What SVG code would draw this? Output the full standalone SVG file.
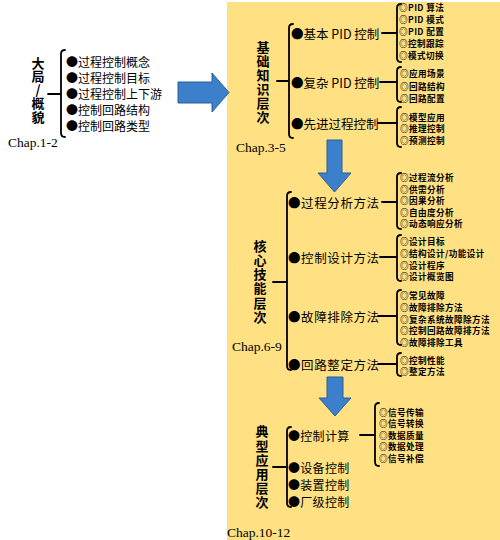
<svg xmlns="http://www.w3.org/2000/svg" width="500" height="540" viewBox="0 0 500 540">
<style>
.br{fill:none;stroke:#000;stroke-width:1.8;stroke-linecap:round;stroke-linejoin:round}
.ar{fill:#3C7FCB;stroke:#2D5F99;stroke-width:1}
text{font-family:"Noto Sans CJK SC","Noto Sans",sans-serif;dominant-baseline:central;fill:#000}
.t1{font-size:12px}
.t2{font-size:12.5px}
.t4{font-size:12px;letter-spacing:0.3px}
.t3{font-size:8.6px;font-weight:bold;letter-spacing:0.4px}
.v{font-size:13px;font-weight:bold;text-anchor:middle;writing-mode:vertical-rl;text-orientation:upright}
.chap{font-family:"Liberation Serif",serif;font-size:13.5px}
</style>
<rect id="panel" x="227" y="2" width="273" height="538" fill="#FFE083"/>

<g id="connectors">
  <path class="br" d="M65 50 Q61 50 61 54 V133 Q61 137 65 137 M48 94 H61"/>
  <path class="br" d="M293 24 Q289 24 289 28 V134 Q289 138 293 138 M277 81 H289"/>
  <path class="br" d="M401 4 Q397 4 397 8 V58 Q397 62 401 62 M382 33 H397"/>
  <path class="br" d="M401 67 Q397 67 397 71 V98 Q397 102 401 102 M380 82 H397"/>
  <path class="br" d="M401 107 Q397 107 397 111 V143 Q397 147 401 147 M378 123 H397"/>
  <path class="br" d="M291 192 Q287 192 287 196 V366 Q287 370 291 370 M273 282 H287"/>
  <path class="br" d="M401 173 Q397 173 397 177 V225 Q397 229 401 229 M382 202 H397"/>
  <path class="br" d="M401 235 Q397 235 397 239 V277 Q397 281 401 281 M380 257 H397"/>
  <path class="br" d="M401 290 Q397 290 397 294 V341 Q397 345 401 345 M378 316 H397"/>
  <path class="br" d="M401 353 Q397 353 397 357 V372 Q397 376 401 376 M378 364 H397"/>
  <path class="br" d="M291 427 Q287 427 287 431 V503 Q287 507 291 507 M273 467 H287"/>
  <path class="br" d="M379 403 Q375 403 375 407 V462 Q375 466 379 466 M360 435 H375"/>
  <polygon class="ar" points="178,82 212,82 212,73 229,92.5 212,112 212,103 178,103"/>
  <polygon class="ar" points="327,140 342,140 342,173 351,173 334.5,192 318,173 327,173"/>
  <polygon class="ar" points="327,377 343,377 343,398 351,398 335,416 319,398 327,398"/>
</g>

<g id="overview">
  <text class="v" x="38" y="90" letter-spacing="0.5">大局/概貌</text>
  <text class="chap" x="8" y="142">Chap.1-2</text>
  <g id="overview-items">
    <text class="t1" x="66" y="61">●过程控制概念</text>
    <text class="t1" x="66" y="77">●过程控制目标</text>
    <text class="t1" x="66" y="93">●过程控制上下游</text>
    <text class="t1" x="66" y="109">●控制回路结构</text>
    <text class="t1" x="66" y="125">●控制回路类型</text>
  </g>
</g>

<g id="basic">
  <text class="v" x="263" y="83" letter-spacing="1">基础知识层次</text>
  <text class="chap" x="236" y="147">Chap.3-5</text>
  <g id="basic-pid">
    <text class="t2" x="291" y="33">●基本 PID 控制</text>
    <text class="t3"><tspan x="399" y="7">◎PID 算法</tspan><tspan x="399" y="19">◎PID 模式</tspan><tspan x="399" y="31">◎PID 配置</tspan><tspan x="399" y="43">◎控制跟踪</tspan><tspan x="399" y="55">◎模式切换</tspan></text>
  </g>
  <g id="complex-pid">
    <text class="t2" x="291" y="82">●复杂 PID 控制</text>
    <text class="t3"><tspan x="400" y="73">◎应用场景</tspan><tspan x="400" y="85.5">◎回路结构</tspan><tspan x="400" y="98">◎回路配置</tspan></text>
  </g>
  <g id="advanced">
    <text class="t2" x="291" y="123">●先进过程控制</text>
    <text class="t3"><tspan x="400" y="116.5">◎模型应用</tspan><tspan x="400" y="128">◎推理控制</tspan><tspan x="400" y="139.5">◎预测控制</tspan></text>
  </g>
</g>

<g id="core">
  <text class="v" x="260" y="282" letter-spacing="1.3">核心技能层次</text>
  <text class="chap" x="232" y="346">Chap.6-9</text>
  <g id="analysis">
    <text class="t2" x="288" y="202" letter-spacing="0.6">●过程分析方法</text>
    <text class="t3"><tspan x="400" y="177">◎过程流分析</tspan><tspan x="400" y="188.5">◎供需分析</tspan><tspan x="400" y="200">◎因果分析</tspan><tspan x="400" y="211.5">◎自由度分析</tspan><tspan x="400" y="223">◎动态响应分析</tspan></text>
  </g>
  <g id="design">
    <text class="t2" x="288" y="257" letter-spacing="0.6">●控制设计方法</text>
    <text class="t3"><tspan x="400" y="241">◎设计目标</tspan><tspan x="400" y="253">◎结构设计/功能设计</tspan><tspan x="400" y="264.5">◎设计程序</tspan><tspan x="400" y="276">◎设计概览图</tspan></text>
  </g>
  <g id="troubleshoot">
    <text class="t2" x="288" y="316" letter-spacing="0.6">●故障排除方法</text>
    <text class="t3"><tspan x="400" y="295">◎常见故障</tspan><tspan x="400" y="306.75">◎故障排除方法</tspan><tspan x="400" y="318.5">◎复杂系统故障除方法</tspan><tspan x="400" y="330.25">◎控制回路故障排方法</tspan><tspan x="400" y="342">◎故障排除工具</tspan></text>
  </g>
  <g id="tuning">
    <text class="t2" x="288" y="364" letter-spacing="0.6">●回路整定方法</text>
    <text class="t3"><tspan x="400" y="359.5">◎控制性能</tspan><tspan x="400" y="371">◎整定方法</tspan></text>
  </g>
</g>

<g id="apply">
  <text class="v" x="262" y="467.5" letter-spacing="1.2">典型应用层次</text>
  <text class="chap" x="227" y="532">Chap.10-12</text>
  <g id="calc">
    <text class="t4" x="288" y="435">●控制计算</text>
    <text class="t3"><tspan x="379" y="411.5">◎信号传输</tspan><tspan x="379" y="423">◎信号转换</tspan><tspan x="379" y="434.5">◎数据质量</tspan><tspan x="379" y="446">◎数据处理</tspan><tspan x="379" y="457.5">◎信号补偿</tspan></text>
  </g>
  <g id="equipment"><text class="t4" x="288" y="467.5">●设备控制</text></g>
  <g id="unit"><text class="t4" x="288" y="484.5">●装置控制</text></g>
  <g id="plant"><text class="t4" x="288" y="501.5">●厂级控制</text></g>
</g>
</svg>
